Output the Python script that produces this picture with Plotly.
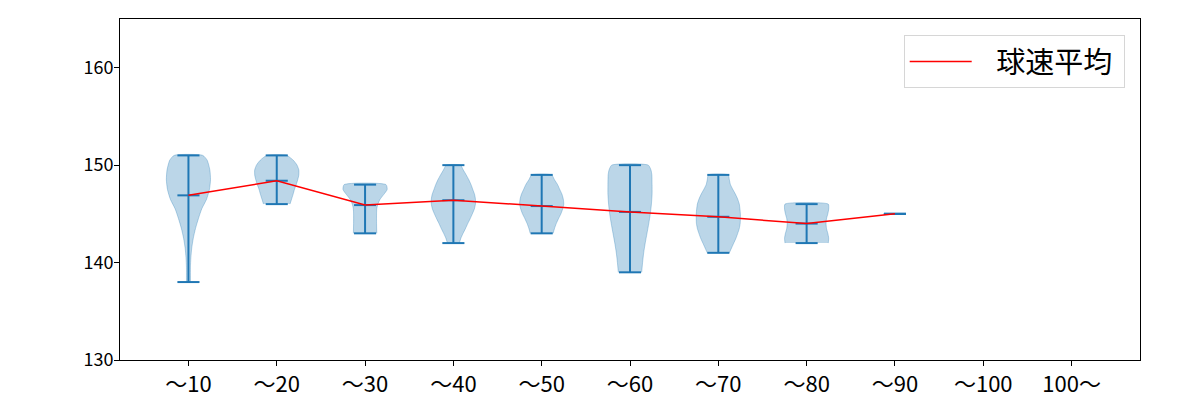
import plotly.graph_objects as go

# ---- data ----
categories = ["～10", "～20", "～30", "～40", "～50", "～60", "～70", "～80", "～90", "～100", "100～"]
positions = [1, 2, 3, 4, 5, 6, 7, 8, 9, 10, 11]

speed_max = [151, 151, 148, 150, 149, 150, 149, 146, 145]
speed_min = [138, 146, 143, 142, 143, 139, 141, 142, 145]
speed_mean = [146.9, 148.4, 145.9, 146.4, 145.8, 145.2, 144.7, 144.0, 145.0]

# relative violin half-widths (1 = widest) at speed levels, per category
levels_10 = [138, 138.5, 139.5, 140.5, 141.5, 142.5, 143.5, 144.5, 145.5, 146.5, 147.5, 148.5, 149.5, 150.5, 151]
dens_10 = [0.09, 0.09, 0.09, 0.11, 0.15, 0.22, 0.32, 0.45, 0.60, 0.82, 0.95, 1.00, 0.97, 0.85, 0.65]

levels_20 = [146, 146.5, 147, 147.5, 148, 148.5, 149, 149.5, 150, 150.5, 151]
dens_20 = [0.60, 0.67, 0.74, 0.80, 0.88, 0.95, 1.00, 1.00, 0.92, 0.75, 0.45]

levels_30 = [143, 144, 145, 145.5, 146, 146.5, 147, 147.5, 148]
dens_30 = [0.53, 0.52, 0.52, 0.53, 0.58, 0.68, 0.85, 1.00, 0.95]

levels_40 = [142, 142.5, 143, 143.5, 144, 144.5, 145, 145.5, 146, 146.5, 147, 147.5, 148, 148.5, 149, 149.5, 150]
dens_40 = [0.27, 0.34, 0.44, 0.55, 0.65, 0.76, 0.86, 0.95, 1.00, 1.00, 0.96, 0.88, 0.80, 0.70, 0.58, 0.45, 0.32]

levels_50 = [143, 143.5, 144, 144.5, 145, 145.5, 146, 146.5, 147, 147.5, 148, 148.5, 149]
dens_50 = [0.52, 0.58, 0.66, 0.76, 0.87, 0.95, 1.00, 0.98, 0.92, 0.82, 0.72, 0.58, 0.45]

levels_60 = [139, 140, 141, 142, 143, 144, 145, 146, 147, 148, 149, 149.5, 150]
dens_60 = [0.53, 0.57, 0.62, 0.69, 0.77, 0.85, 0.92, 0.97, 1.00, 1.00, 0.99, 0.95, 0.83]

levels_70 = [141, 141.5, 142, 142.5, 143, 143.5, 144, 144.5, 145, 145.5, 146, 146.5, 147, 147.5, 148, 148.5, 149]
dens_70 = [0.50, 0.60, 0.70, 0.80, 0.88, 0.95, 0.99, 1.00, 1.00, 0.98, 0.95, 0.88, 0.78, 0.66, 0.55, 0.50, 0.45]

levels_80 = [142, 142.5, 143, 143.5, 144, 144.5, 145, 145.5, 146]
dens_80 = [0.98, 1.00, 0.96, 0.90, 0.88, 0.90, 0.96, 1.00, 0.98]

violin_levels = [levels_10, levels_20, levels_30, levels_40, levels_50, levels_60, levels_70, levels_80]
violin_dens = [dens_10, dens_20, dens_30, dens_40, dens_50, dens_60, dens_70, dens_80]

legend_label = "球速平均"

# ---- styling ----
BLUE = "#1f77b4"
BODY = "rgba(31,119,180,0.3)"
HALF_WIDTH = 0.25   # violin width 0.5
CAP = 0.125
FONT = "Noto Sans CJK JP"

fig = go.Figure()

# violin bodies
for i, (lv, dn) in enumerate(zip(violin_levels, violin_dens)):
    p = positions[i]
    xs = [p + HALF_WIDTH * d for d in dn] + [p - HALF_WIDTH * d for d in reversed(dn)]
    ys = list(lv) + list(reversed(lv))
    fig.add_trace(go.Scatter(
        x=xs, y=ys, mode="lines", fill="toself", fillcolor=BODY,
        line=dict(color="rgba(31,119,180,0.3)", width=1, shape="spline", smoothing=0.6),
        showlegend=False, hoverinfo="skip"))

# bars and caps (min, max, mean)
lx, ly = [], []
for i in range(len(speed_max)):
    p = positions[i]
    lx += [p, p, None]
    ly += [speed_min[i], speed_max[i], None]
    for v in (speed_min[i], speed_max[i], speed_mean[i]):
        lx += [p - CAP, p + CAP, None]
        ly += [v, v, None]
fig.add_trace(go.Scatter(x=lx, y=ly, mode="lines", line=dict(color=BLUE, width=2),
                         showlegend=False, hoverinfo="skip"))

# mean line
fig.add_trace(go.Scatter(x=positions[:len(speed_mean)], y=speed_mean, mode="lines",
                         line=dict(color="red", width=1.5),
                         name="\u00a0\u00a0\u00a0" + legend_label + "\u00a0"))

fig.update_layout(
    width=1200, height=400,
    margin=dict(l=120, r=60, t=19, b=40, autoexpand=False),
    paper_bgcolor="white", plot_bgcolor="white",
    font=dict(family=FONT, color="black", size=17),
    legend=dict(x=0.985, y=0.953, xanchor="right", yanchor="top",
                bgcolor="white", bordercolor="#d6d6d6", borderwidth=1,
                itemwidth=62, font=dict(size=29, family=FONT)),
    xaxis=dict(range=[0.225, 11.775], tickmode="array", tickvals=positions, ticktext=categories,
               showgrid=False, zeroline=False, showline=True, linecolor="black", linewidth=1,
               mirror=True, ticks="outside", ticklen=5, tickcolor="black", automargin=False,
               tickfont=dict(size=22, family=FONT)),
    yaxis=dict(range=[130, 165], tickmode="array", tickvals=[130, 140, 150, 160],
               showgrid=False, zeroline=False, showline=True, linecolor="black", linewidth=1,
               mirror=True, ticks="outside", ticklen=5, tickcolor="black", automargin=False,
               ticklabelstandoff=-3,
               tickfont=dict(size=18, family=FONT)),
)

fig.write_html("out.html")
